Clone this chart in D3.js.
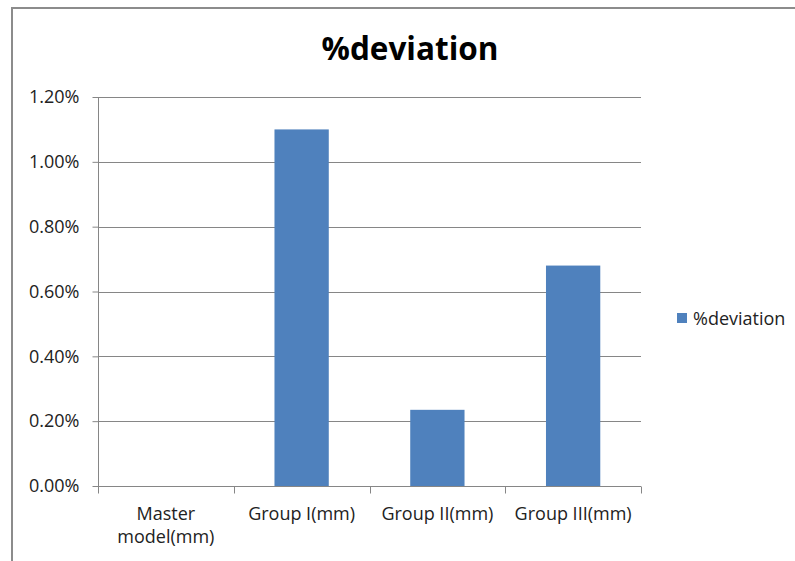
<!DOCTYPE html>
<html>
<head>
<meta charset="utf-8">
<script src="https://cdn.jsdelivr.net/npm/d3@7"></script>
<style>
  html, body { margin: 0; padding: 0; background: #fff; }
  svg { display: block; font-family: "Open Sans", sans-serif; }
</style>
</head>
<body>
<svg id="chart" width="795" height="561"></svg>
<script>
// Chart data
const categories = ["Master\nmodel(mm)", "Group I(mm)", "Group II(mm)", "Group III(mm)"];
const deviation = [0, 0.0110, 0.00235, 0.0068];
const tickValues = [0, 0.002, 0.004, 0.006, 0.008, 0.010, 0.012];
const seriesName = "%deviation";

const svg = d3.select("#chart");
const W = 795, H = 561;
const plot = { left: 98, right: 641, top: 97, bottom: 486 };
const barColor = "#4F81BD";
const gridColor = "#868686";
const font = "'Open Sans', sans-serif";
const labelSize = 18;

// Outer frame (top and left edges)
svg.append("path")
  .attr("d", `M12,${H} L12,8 L${W},8`)
  .attr("fill", "none")
  .attr("stroke", "#8c8c8c")
  .attr("stroke-width", 2);

// Title
svg.append("text")
  .attr("x", 410).attr("y", 60)
  .attr("text-anchor", "middle")
  .attr("font-size", 31.5).attr("font-weight", "bold")
  .attr("fill", "#000")
  .text("%deviation");

const x = d3.scaleBand().domain(categories).range([plot.left, plot.right]).paddingInner(0).paddingOuter(0);
const y = d3.scaleLinear().domain([0, 0.012]).range([plot.bottom, plot.top]);

// Horizontal gridlines
svg.append("g").selectAll("line")
  .data(tickValues.filter(v => v > 0))
  .join("line")
  .attr("x1", plot.left).attr("x2", plot.right)
  .attr("y1", d => Math.round(y(d)) + 0.5).attr("y2", d => Math.round(y(d)) + 0.5)
  .attr("stroke", gridColor).attr("stroke-width", 1);

// Bars
const bw = x.bandwidth() * 0.4;
svg.append("g").selectAll("rect")
  .data(categories.map((c, i) => ({ c, v: deviation[i] })).filter(d => d.v > 0))
  .join("rect")
  .attr("x", d => x(d.c) + (x.bandwidth() - bw) / 2)
  .attr("width", bw)
  .attr("y", d => y(d.v))
  .attr("height", d => y(0) - y(d.v))
  .attr("fill", barColor);

// Y axis
const yAxis = svg.append("g")
  .attr("transform", `translate(${plot.left + 0.5},0)`)
  .call(d3.axisLeft(y).tickValues(tickValues).tickFormat(d3.format(".2%")).tickSize(6).tickPadding(13));
yAxis.select(".domain").attr("stroke", gridColor).attr("d", `M0,${plot.top}V${plot.bottom}`);
yAxis.selectAll(".tick line").attr("stroke", gridColor);
yAxis.selectAll(".tick text").attr("font-size", labelSize).attr("fill", "#222").attr("font-family", font);

// X axis
const xAxis = svg.append("g")
  .attr("transform", `translate(0,${Math.round(plot.bottom) + 0.5})`);
xAxis.append("line")
  .attr("x1", plot.left).attr("x2", plot.right)
  .attr("stroke", gridColor);
xAxis.selectAll("line.tk")
  .data([...categories.map(c => x(c)), plot.right])
  .join("line").attr("class", "tk")
  .attr("x1", d => Math.round(d) + 0.5).attr("x2", d => Math.round(d) + 0.5)
  .attr("y1", 0).attr("y2", 7)
  .attr("stroke", gridColor);
xAxis.selectAll("text")
  .data(categories)
  .join("text")
  .attr("x", d => x(d) + x.bandwidth() / 2)
  .attr("y", 33)
  .attr("text-anchor", "middle")
  .attr("font-size", labelSize).attr("fill", "#222")
  .each(function(d) {
    const lines = d.split("\n");
    d3.select(this).selectAll("tspan").data(lines).join("tspan")
      .attr("x", x(d) + x.bandwidth() / 2)
      .attr("dy", (l, i) => i === 0 ? 0 : 23)
      .text(l => l);
  });

// Legend
const lg = svg.append("g").attr("transform", "translate(677,313)");
lg.append("rect").attr("width", 10).attr("height", 10).attr("fill", barColor);
lg.append("text").attr("x", 16).attr("y", 11.5)
  .attr("font-size", labelSize).attr("fill", "#222")
  .text(seriesName);
</script>
</body>
</html>
